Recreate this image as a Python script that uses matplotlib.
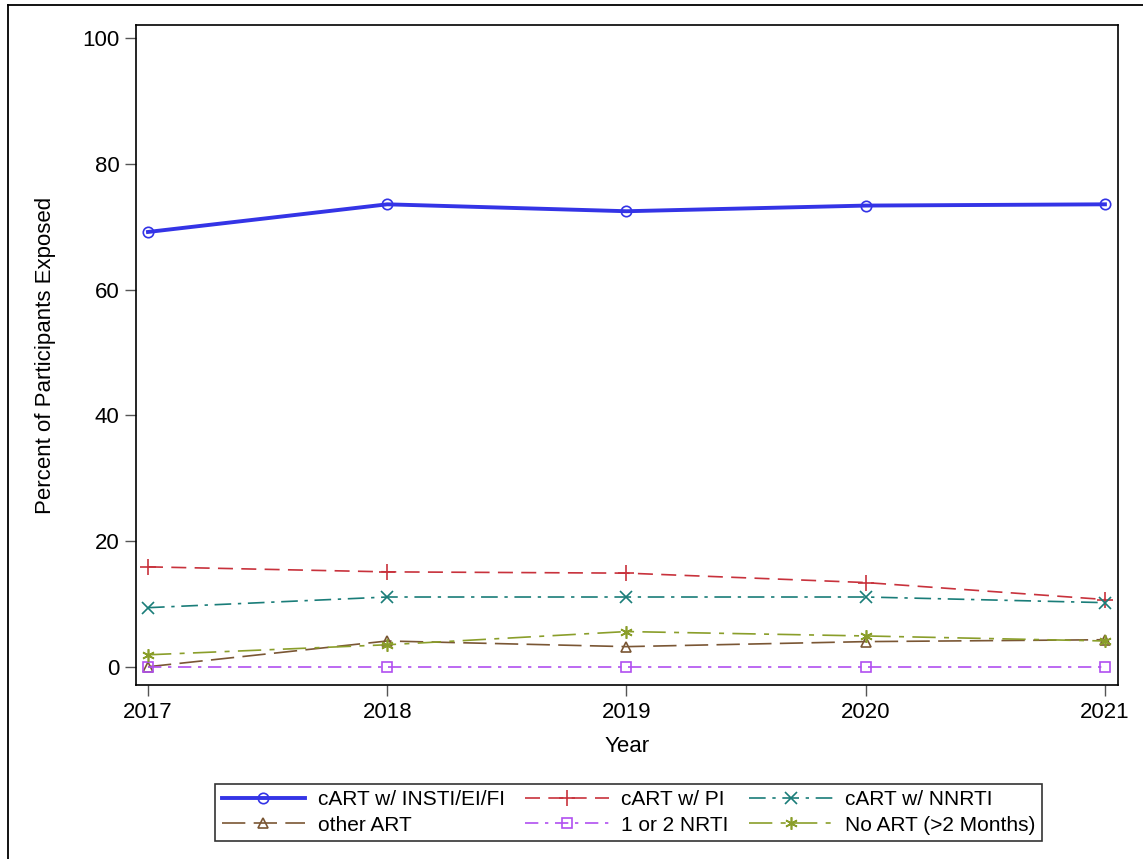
import matplotlib
matplotlib.use('Agg')
import matplotlib.pyplot as plt
from matplotlib.lines import Line2D

plt.rcParams['font.family'] = ['Liberation Sans', 'DejaVu Sans']

years = [2017, 2018, 2019, 2020, 2021]

insti = [69.2, 73.6, 72.5, 73.4, 73.6]
pi = [15.9, 15.1, 14.9, 13.4, 10.7]
nnrti = [9.4, 11.1, 11.1, 11.1, 10.2]
other_art = [0.0, 4.1, 3.2, 4.0, 4.3]
nrti = [0.0, 0.0, 0.0, 0.0, 0.0]
no_art = [1.9, 3.5, 5.6, 4.9, 4.1]

labels = ['cART w/ INSTI/EI/FI', 'cART w/ PI', 'cART w/ NNRTI',
          'other ART', '1 or 2 NRTI', 'No ART (>2 Months)']

fig = plt.figure(figsize=(11.43, 8.59), dpi=100)
ax = fig.add_axes([0.119, 0.2026, 0.859, 0.768])

# top and left edges of the outer frame (screenshot is cropped on the other sides)
fig.lines.append(Line2D([0.007, 0.007], [0.0, 0.994], transform=fig.transFigure,
                        color='black', linewidth=1.3))
fig.lines.append(Line2D([0.007, 1.0], [0.994, 0.994], transform=fig.transFigure,
                        color='black', linewidth=1.3))

h1, = ax.plot(years, insti, color='#3434e6', linewidth=2.8, marker='o', markersize=7.5,
              markerfacecolor='none', markeredgewidth=1.2)
h2, = ax.plot(years, pi, color='#c8323c', linewidth=1.2, dashes=(9, 5), marker='+',
              markersize=11, markeredgewidth=1.2)
h3, = ax.plot(years, nnrti, color='#1a7d79', linewidth=1.2, dashes=(10, 4, 2, 4), marker='x',
              markersize=8, markeredgewidth=1.2)
h4, = ax.plot(years, other_art, color='#7a5634', linewidth=1.2, dashes=(14, 5), marker='^',
              markersize=7, markerfacecolor='none', markeredgewidth=1.2)
h5, = ax.plot(years, nrti, color='#b04ff0', linewidth=1.2, dashes=(8, 4, 2, 4), marker='s',
              markersize=7, markerfacecolor='none', markeredgewidth=1.2)
h6, = ax.plot(years, no_art, color='#8a9e2a', linewidth=1.2, dashes=(14, 5, 3, 5), marker=(6, 2, 0),
              markersize=9, markeredgewidth=1.2)

ax.set_xlim(2016.95, 2021.054)
ax.set_ylim(-2.9, 102.1)
ax.set_xticks(years)
ax.set_yticks([0, 20, 40, 60, 80, 100])
ax.tick_params(labelsize=16, length=8, width=1, color='#555555', pad=4)
ax.set_xlabel('Year', fontsize=16)
ax.set_ylabel('Percent of Participants Exposed', fontsize=16)
ax.xaxis.set_label_coords(0.5, -0.078)
ax.yaxis.set_label_coords(-0.082, 0.5)
for s in ax.spines.values():
    s.set_linewidth(1.2)

handles = [h1, h4, h2, h5, h3, h6]
leg_labels = [labels[0], labels[3], labels[1], labels[4], labels[2], labels[5]]
leg = fig.legend(handles, leg_labels, ncol=3, loc='center', bbox_to_anchor=(0.550, 0.054),
                 fontsize=15, frameon=True, fancybox=False, edgecolor='black',
                 handlelength=4.0, handletextpad=0.6, columnspacing=1.0,
                 borderpad=0.3, labelspacing=0.3, borderaxespad=0)
leg.get_frame().set_linewidth(1.2)

fig.savefig('out.png', dpi=100)
